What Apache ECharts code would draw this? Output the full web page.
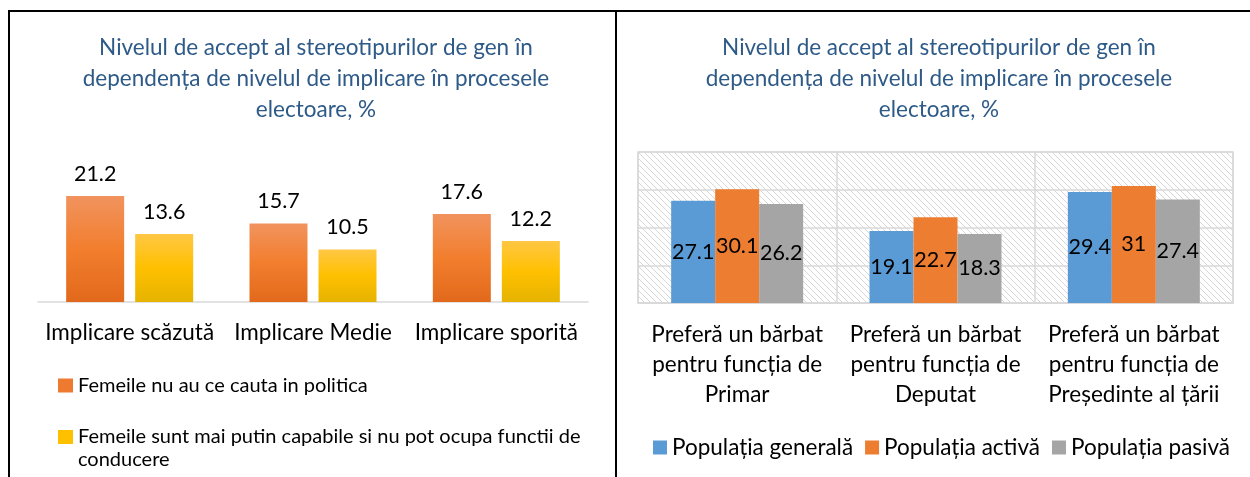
<!DOCTYPE html>
<html>
<head>
<meta charset="utf-8">
<script src="https://cdn.jsdelivr.net/npm/echarts@6/dist/echarts.min.js"></script>
<style>
html,body{margin:0;padding:0;background:#fff;}
#c{width:1250px;height:477px;}
</style>
</head>
<body>
<div id="c"></div>
<script>
const titleText = 'Nivelul de accept al stereotipurilor de gen în\ndependența de nivelul de implicare în procesele\nelectoare, %';

const leftCategories = ['Implicare scăzută', 'Implicare Medie', 'Implicare sporită'];
const leftSeriesNames = ['Femeile nu au ce cauta in politica', 'Femeile sunt mai putin capabile si nu pot ocupa functii de conducere'];
const leftValues1 = [21.2, 15.7, 17.6];
const leftValues2 = [13.6, 10.5, 12.2];

const rightCategories = ['Preferă un bărbat\npentru funcția de\nPrimar', 'Preferă un bărbat\npentru funcția de\nDeputat', 'Preferă un bărbat\npentru funcția de\nPreședinte al țării'];
const rightSeriesNames = ['Populația generală', 'Populația activă', 'Populația pasivă'];
const rightGeneral = [27.1, 19.1, 29.4];
const rightActive = [30.1, 22.7, 31];
const rightPassive = [26.2, 18.3, 27.4];
const rightTicks = [0, 10, 20, 30, 40];

const FONT = 'Lato';

// hatch pattern
const pc = document.createElement('canvas');
pc.width = 6; pc.height = 6;
const pctx = pc.getContext('2d');
pctx.fillStyle = '#ffffff';
pctx.fillRect(0, 0, 6, 6);
pctx.strokeStyle = '#d6d6d6';
pctx.lineWidth = 1;
pctx.beginPath();
pctx.moveTo(-1, -1); pctx.lineTo(7, 7);
pctx.moveTo(-4, 2); pctx.lineTo(1, 7);
pctx.moveTo(2, -4); pctx.lineTo(7, 1);
pctx.stroke();

const orangeGrad = new echarts.graphic.LinearGradient(0, 0, 0, 1, [
  {offset: 0, color: '#F1935E'}, {offset: 0.5, color: '#F27E2E'}, {offset: 1, color: '#E2691B'}
]);
const yellowGrad = new echarts.graphic.LinearGradient(0, 0, 0, 1, [
  {offset: 0, color: '#FFC744'}, {offset: 0.5, color: '#FFC000'}, {offset: 1, color: '#E5B300'}
]);

const chart = echarts.init(document.getElementById('c'), null, {renderer: 'canvas'});

const titleStyle = {fontFamily: FONT, fontSize: 22.5, fontWeight: 'normal', color: '#2E5A88', lineHeight: 31};

const option = {
  animation: false,
  textStyle: {fontFamily: FONT},
  title: [
    {text: titleText, left: 311, top: 27, textAlign: 'center', textStyle: titleStyle},
    {text: titleText, left: 934, top: 27, textAlign: 'center', textStyle: titleStyle}
  ],
  legend: [
    {
      orient: 'vertical', left: 58, top: 374, itemWidth: 15, itemHeight: 14, padding: 0,
      icon: 'rect',
      textStyle: {fontFamily: FONT, fontSize: 20, color: '#000', lineHeight: 23},
      data: [{name: leftSeriesNames[0], itemStyle: {color: '#EE7A30'}}]
    },
    {
      orient: 'vertical', left: 58, top: 402.5, itemWidth: 15, itemHeight: 14, padding: 0,
      icon: 'rect',
      formatter: function (name) { return '\n' + name; },
      textStyle: {fontFamily: FONT, fontSize: 20, color: '#000', lineHeight: 23, width: 510, overflow: 'break'},
      data: [{name: leftSeriesNames[1], itemStyle: {color: '#FFC000'}}]
    },
    {
      orient: 'horizontal', left: 653, top: 436, itemWidth: 14, itemHeight: 14, itemGap: 12, padding: 0,
      icon: 'rect',
      textStyle: {fontFamily: FONT, fontSize: 22.5, color: '#000'},
      data: rightSeriesNames
    }
  ],
  grid: [
    {left: 38, top: 152, width: 550, height: 150},
    {left: 638, top: 152, width: 595, height: 151, show: true,
     backgroundColor: {image: pc, repeat: 'repeat'}, borderColor: '#d9d9d9', borderWidth: 1.5}
  ],
  xAxis: [
    {type: 'category', gridIndex: 0, data: leftCategories,
     axisLine: {lineStyle: {color: '#d9d9d9', width: 1.5}}, axisTick: {show: false},
     axisLabel: {interval: 0, hideOverlap: false, fontFamily: FONT, fontSize: 22.5, color: '#000', margin: 19, lineHeight: 24}},
    {type: 'category', gridIndex: 1, data: rightCategories,
     axisLine: {lineStyle: {color: '#d9d9d9', width: 1.5}}, axisTick: {show: false},
     splitLine: {show: true, lineStyle: {color: '#d9d9d9', width: 1.5}},
     axisLabel: {interval: 0, hideOverlap: false, fontFamily: FONT, fontSize: 22.5, color: '#000', margin: 17, lineHeight: 30}}
  ],
  yAxis: [
    {type: 'value', gridIndex: 0, min: 0, max: 30, show: false, splitLine: {show: false}},
    {type: 'value', gridIndex: 1, min: rightTicks[0], max: rightTicks[rightTicks.length - 1], interval: 10,
     axisLine: {show: false}, axisTick: {show: false}, axisLabel: {show: false},
     splitLine: {show: true, lineStyle: {color: '#d9d9d9', width: 1.5}}}
  ],
  series: [
    {name: leftSeriesNames[0], type: 'bar', xAxisIndex: 0, yAxisIndex: 0, data: leftValues1,
     barWidth: 58, barGap: '19%', itemStyle: {color: orangeGrad},
     label: {show: true, position: 'top', distance: 11, fontFamily: FONT, fontSize: 21.5, color: '#000'}},
    {name: leftSeriesNames[1], type: 'bar', xAxisIndex: 0, yAxisIndex: 0, data: leftValues2,
     barWidth: 58, barGap: '19%', itemStyle: {color: yellowGrad},
     label: {show: true, position: 'top', distance: 11, fontFamily: FONT, fontSize: 21.5, color: '#000'}},
    {name: rightSeriesNames[0], type: 'bar', xAxisIndex: 1, yAxisIndex: 1, data: rightGeneral,
     barWidth: 44, barGap: '0%', itemStyle: {color: '#5B9BD5'},
     label: {show: true, position: 'inside', fontFamily: FONT, fontSize: 21.5, color: '#000', overflow: 'none'}},
    {name: rightSeriesNames[1], type: 'bar', xAxisIndex: 1, yAxisIndex: 1, data: rightActive,
     barWidth: 44, barGap: '0%', itemStyle: {color: '#ED7D31'},
     label: {show: true, position: 'inside', fontFamily: FONT, fontSize: 21.5, color: '#000', overflow: 'none'}},
    {name: rightSeriesNames[2], type: 'bar', xAxisIndex: 1, yAxisIndex: 1, data: rightPassive,
     barWidth: 44, barGap: '0%', itemStyle: {color: '#A5A5A5'},
     label: {show: true, position: 'inside', fontFamily: FONT, fontSize: 21.5, color: '#000', overflow: 'none'}}
  ],
  graphic: [
    {type: 'line', shape: {x1: 8, y1: 11, x2: 1250, y2: 11}, style: {stroke: '#000', lineWidth: 2}, silent: true},
    {type: 'line', shape: {x1: 9, y1: 10, x2: 9, y2: 477}, style: {stroke: '#000', lineWidth: 2}, silent: true},
    {type: 'line', shape: {x1: 616, y1: 10, x2: 616, y2: 477}, style: {stroke: '#000', lineWidth: 2}, silent: true}
  ]
};
chart.setOption(option);
</script>
</body>
</html>
